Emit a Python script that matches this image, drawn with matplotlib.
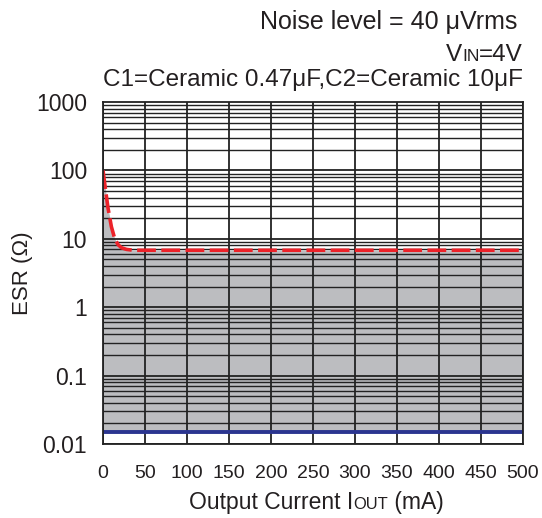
import matplotlib
matplotlib.use("Agg")
import matplotlib.pyplot as plt
import numpy as np
from matplotlib.offsetbox import TextArea, HPacker, AnnotationBbox

plt.rcParams['font.family'] = ['Liberation Sans', 'DejaVu Sans']

# Data
curve_i = [0, 3, 6, 10, 14, 18, 22, 28, 36, 500]
curve_esr = [100, 52, 28, 15, 10, 8.2, 7.4, 7.0, 6.8, 6.8]
lower_esr = 0.015
x_ticks = [0, 50, 100, 150, 200, 250, 300, 350, 400, 450, 500]
y_ticks = [0.01, 0.1, 1, 10, 100, 1000]
y_labels = ['0.01', '0.1', '1', '10', '100', '1000']

fig = plt.figure(figsize=(5.42, 5.18), dpi=100)
ax = fig.add_axes([103/542, 1-444/518, 420/542, 342/518])
ax.set_yscale('log')
ax.set_xlim(0, 500)
ax.set_ylim(0.01, 1000)

ci = np.array(curve_i, float)
ce = np.array(curve_esr, float)
ax.fill_between(ci, lower_esr, ce, color='#bcbdc0', lw=0, zorder=1)

# grid
for x in x_ticks:
    ax.axvline(x, color='#222222', lw=1.3, zorder=2)
for d in [0.01, 0.1, 1, 10, 100]:
    for m in range(1, 10):
        ax.axhline(d*m, color='#222222', lw=1.0 if m > 1 else 1.3, zorder=2)

ax.plot(ci, ce, color='#ec2229', lw=2.6, ls=(0, (5.2, 1.5)), zorder=4)
ax.axhline(lower_esr, color='#2b3590', lw=2.8, zorder=4)

fs = 17.5
col = '#231f20'

ax.set_xticks(x_ticks)
ax.set_xticklabels([str(v) for v in x_ticks], fontsize=14)
ax.set_yticks(y_ticks)
ax.set_yticklabels(y_labels, fontsize=16.5)
ax.minorticks_off()
ax.tick_params(length=0, colors=col)
ax.tick_params(axis='y', pad=11.5)
ax.tick_params(axis='x', pad=15)
for s in ax.spines.values():
    s.set_color('#222222')
    s.set_linewidth(1.3)
    s.set_zorder(5)

ax.set_ylabel('ESR (Ω)', fontsize=16, color=col)
ax.yaxis.set_label_coords(-0.166, (444-273)/342)

def packed(parts, size):
    areas = []
    for t, small in parts:
        areas.append(TextArea(t, textprops=dict(fontsize=size*0.72 if small else size, color=col)))
    return HPacker(children=areas, pad=0, sep=0, align='baseline')

# x label
ab = AnnotationBbox(packed([('Output Current I', False), ('OUT', True), (' (mA)', False)], 16.5),
                    (316/542, 1-509/518), xycoords='figure fraction',
                    box_alignment=(0.5, 0.2), frameon=False)
fig.add_artist(ab)

fig.text(517/542, 1-29/518, 'Noise level = 40 μVrms', ha='right', va='baseline', fontsize=18, color=col)
ab2 = AnnotationBbox(packed([('V', False), ('IN', True), ('=4V', False)], fs),
                     (523/542, 1-66/518), xycoords='figure fraction',
                     box_alignment=(1, 0), frameon=False)
fig.add_artist(ab2)
fig.text(523/542, 1-86/518, 'C1=Ceramic 0.47μF,C2=Ceramic 10μF', ha='right', va='baseline', fontsize=fs, color=col)

fig.savefig('out.png', dpi=100)
